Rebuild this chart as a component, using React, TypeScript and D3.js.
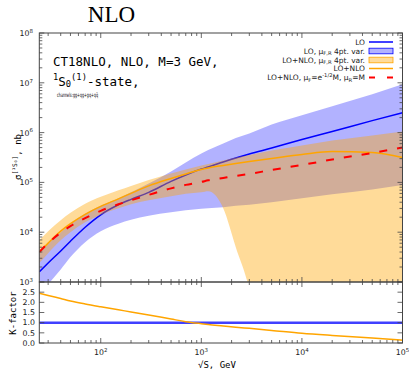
import React from "react";
import * as d3 from "d3";

// sqrt(S), GeV
const ENERGIES = [24.5, 30, 40, 50, 70, 100, 150, 200, 300, 500, 700, 1000, 1170, 1650, 2200, 3000, 5000, 1e4, 2e4, 5e4, 1e5];

// sigma, nb
const LO = [1.6e3, 2.4e3, 4.2e3, 6.6e3, 1.26e4, 2.24e4, 3.55e4, 4.57e4, 6.31e4, 1.05e5, 1.41e5, 1.86e5, 2.04e5, 2.57e5, 3.09e5, 3.72e5, 4.9e5, 7.24e5, 1.05e6, 1.74e6, 2.51e6];
const LO_LOW = [500, 890, 1.78e3, 3.16e3, 6.31e3, 1.05e4, 1.48e4, 1.78e4, 2.14e4, 2.51e4, 2.75e4, 2.95e4, 3.02e4, 3.16e4, 3.39e4, 3.55e4, 3.98e4, 4.79e4, 5.75e4, 7.24e4, 8.91e4];
const LO_HIGH = [4.17e3, 6.03e3, 1e4, 1.48e4, 2.34e4, 3.39e4, 4.79e4, 6.31e4, 9.55e4, 1.66e5, 2.51e5, 3.8e5, 4.47e5, 6.03e5, 7.76e5, 9.55e5, 1.45e6, 2.24e6, 3.39e6, 5.89e6, 9.33e6];
const NLO = [3.98e3, 6.03e3, 1.05e4, 1.48e4, 2.29e4, 3.31e4, 4.68e4, 6.03e4, 8.51e4, 1.2e5, 1.48e5, 1.82e5, 1.95e5, 2.19e5, 2.4e5, 2.63e5, 3.02e5, 3.63e5, 4.17e5, 3.98e5, 3.16e5];
const NLO_LOW = [2.4e3, 3.8e3, 6.92e3, 1e4, 1.58e4, 2.24e4, 3.02e4, 3.63e4, 4.37e4, 5.25e4, 5.89e4, 6.31e4, 6.61e4, 3.02e4, 5.01e3, 708, 1, 1, 1, 1, 1];
const NLO_HIGH = [6.92e3, 1.05e4, 1.74e4, 2.45e4, 3.72e4, 5.13e4, 6.92e4, 8.51e4, 1.12e5, 1.51e5, 1.82e5, 2.19e5, 2.34e5, 2.75e5, 3.16e5, 3.55e5, 4.37e5, 5.5e5, 6.92e5, 8.71e5, 1.05e6];
const NLO_ALT = [3.98e3, 6.03e3, 9.77e3, 1.32e4, 1.91e4, 2.69e4, 3.63e4, 4.37e4, 5.62e4, 7.59e4, 8.91e4, 1.02e5, 1.1e5, 1.23e5, 1.35e5, 1.48e5, 1.78e5, 2.24e5, 2.88e5, 3.89e5, 5.01e5];

// K-factor panel
const K_LO = [1, 1, 1, 1, 1, 1, 1, 1, 1, 1, 1, 1, 1, 1, 1, 1, 1, 1, 1, 1, 1];
const K_NLO = [2.45, 2.34, 2.19, 2.07, 1.92, 1.78, 1.63, 1.53, 1.38, 1.18, 1.05, 0.95, 0.91, 0.84, 0.78, 0.72, 0.62, 0.48, 0.37, 0.24, 0.14];

const Y_DECADES = [3, 4, 5, 6, 7, 8];
const X_DECADES = [2, 3, 4, 5];
const K_TICKS = [0, 0.5, 1, 1.5, 2, 2.5, 3];
const K_LABELS = ["0.0", "0.5", "1.0", "1.5", "2.0", "2.5"];

const LEFT = 39.3, RIGHT = 402.5, TOP = 33, MID = 282, BOTTOM = 343;
const SPINE = "#444";
const MONO = "'DejaVu Sans Mono', monospace";
const SANS = "'DejaVu Sans', sans-serif";

type Seg = { t: string; k?: "sup" | "sub" };

function Rich({ segs, size, subShift = 0.22, ...rest }: any) {
  let cur = 0;
  return (
    <text fontSize={size} {...rest}>
      {segs.map((s: Seg, i: number) => {
        const target = s.k === "sup" ? -size * 0.42 : s.k === "sub" ? size * subShift : 0;
        const dy = target - cur;
        cur = target;
        return (
          <tspan key={i} dy={dy} fontSize={s.k ? size * 0.7 : size}>{s.t}</tspan>
        );
      })}
    </text>
  );
}

export default function App() {
  const x = d3.scaleLog().domain([24.5, 1e5]).range([LEFT, RIGHT]);
  const y = d3.scaleLog().domain([1e3, 1e8]).range([MID, TOP]);
  const yk = d3.scaleLinear().domain([0, 3]).range([BOTTOM, MID]);

  const line = (vals: number[], ys: any) =>
    d3.line<number>()
      .x((_, i) => x(ENERGIES[i]))
      .y((v) => ys(v))
      .curve(d3.curveMonotoneX)(vals) || "";

  const band = (lo: number[], hi: number[]) =>
    d3.area<number>()
      .x((e) => x(e))
      .y0((_, i) => y(lo[i]))
      .y1((_, i) => y(hi[i]))
      .curve(d3.curveMonotoneX)(ENERGIES) || "";

  const xTicks = x.ticks();
  const yTicks = y.ticks();
  const isMajor = (v: number) => Math.abs(Math.log10(v) - Math.round(Math.log10(v))) < 1e-6;

  const legendRows = [42, 51, 60, 68.5, 77.5];
  const LX = 365, HX0 = 369, HX1 = 393;

  return (
    <svg width={409} height={370} style={{ position: "absolute", left: 0, top: 0, background: "#fff" }}>
      <defs>
        <clipPath id="mainClip">
          <rect x={LEFT} y={TOP} width={RIGHT - LEFT} height={MID - TOP} />
        </clipPath>
        <clipPath id="kClip">
          <rect x={LEFT} y={MID} width={RIGHT - LEFT} height={BOTTOM - MID} />
        </clipPath>
      </defs>

      {/* title */}
      <text x={111.5} y={22} textAnchor="middle" fontFamily="'Liberation Serif', serif" fontSize={23}>NLO</text>

      {/* main panel */}
      <g clipPath="url(#mainClip)">
        <path d={band(LO_LOW, LO_HIGH)} fill="blue" fillOpacity={0.3} />
        <path d={line(LO, y)} fill="none" stroke="blue" strokeWidth={1.5} />
        <path d={band(NLO_LOW, NLO_HIGH)} fill="orange" fillOpacity={0.4} />
        <path d={line(NLO, y)} fill="none" stroke="orange" strokeWidth={1.5} />
        <path d={line(NLO_ALT, y)} fill="none" stroke="red" strokeWidth={2} strokeDasharray="8,10" />
      </g>

      {/* K panel */}
      <g clipPath="url(#kClip)">
        <path d={line(K_LO, yk)} fill="none" stroke="blue" strokeWidth={2.5} strokeOpacity={0.75} />
        <path d={line(K_NLO, yk)} fill="none" stroke="orange" strokeWidth={1.5} />
      </g>

      {/* frames */}
      <rect x={LEFT} y={TOP} width={RIGHT - LEFT} height={MID - TOP} fill="none" stroke={SPINE} strokeWidth={1} />
      <rect x={LEFT} y={MID} width={RIGHT - LEFT} height={BOTTOM - MID} fill="none" stroke={SPINE} strokeWidth={1} />

      {/* ticks, all pointing inward */}
      <g stroke={SPINE} strokeWidth={0.8}>
        {xTicks.map((t, i) => {
          const len = isMajor(t) ? 5 : 3;
          const px = x(t);
          return (
            <g key={i}>
              <line x1={px} x2={px} y1={TOP} y2={TOP + len} />
              <line x1={px} x2={px} y1={MID} y2={MID - len} />
              <line x1={px} x2={px} y1={MID} y2={MID + len} />
              <line x1={px} x2={px} y1={BOTTOM} y2={BOTTOM - len} />
            </g>
          );
        })}
        {yTicks.map((t, i) => {
          const len = isMajor(t) ? 5 : 3;
          const py = y(t);
          return (
            <g key={"y" + i}>
              <line x1={LEFT} x2={LEFT + len} y1={py} y2={py} />
              <line x1={RIGHT} x2={RIGHT - len} y1={py} y2={py} />
            </g>
          );
        })}
        {K_TICKS.map((t, i) => (
          <g key={"k" + i}>
            <line x1={LEFT} x2={LEFT + 5} y1={yk(t)} y2={yk(t)} />
            <line x1={RIGHT} x2={RIGHT - 5} y1={yk(t)} y2={yk(t)} />
          </g>
        ))}
      </g>

      {/* tick labels */}
      <g fontFamily={SANS} fill="#222">
        {Y_DECADES.map((d) => (
          <Rich key={d} segs={[{ t: "10" }, { t: String(d), k: "sup" }]} size={7.8} x={33} y={y(Math.pow(10, d)) + 3} textAnchor="end" />
        ))}
        {X_DECADES.map((d) => (
          <Rich key={d} segs={[{ t: "10" }, { t: String(d), k: "sup" }]} size={7.8} x={x(Math.pow(10, d))} y={355} textAnchor="middle" />
        ))}
        {K_LABELS.map((l, i) => (
          <text key={l} x={35} y={yk(K_TICKS[i]) + 2.8} fontSize={7.8} textAnchor="end">{l}</text>
        ))}
      </g>

      {/* axis labels */}
      <Rich segs={[{ t: "σ" }, { t: "[¹S₀]", k: "sup" }, { t: ", nb" }]} size={9} fontFamily={MONO}
        textAnchor="middle" transform={`translate(21,157) rotate(-90)`} />
      <text transform="translate(16,313) rotate(-90)" textAnchor="middle" fontFamily={MONO} fontSize={9}>K-factor</text>
      <text x={217} y={368} textAnchor="middle" fontFamily={MONO} fontSize={9}>√S, GeV</text>

      {/* annotations */}
      <text x={53} y={65.5} fontFamily={MONO} fontSize={12.5}>CT18NLO, NLO, M=3 GeV,</text>
      <Rich segs={[{ t: "1", k: "sup" }, { t: "S" }, { t: "0", k: "sub" }, { t: "(1)", k: "sup" }, { t: "-state," }]}
        size={12.5} subShift={0.12} fontFamily={MONO} x={53} y={85.5} />
      <text x={57} y={96.5} fontFamily={SANS} fontSize={6} textLength={41} lengthAdjust="spacingAndGlyphs">channels:gg+qg+gq+qq̄</text>

      {/* legend */}
      <g fontFamily={SANS} fill="#222">
        <Rich segs={[{ t: "LO" }]} size={7.5} x={LX} y={legendRows[0] + 2.7} textAnchor="end" />
        <Rich segs={[{ t: "LO, μ" }, { t: "F,R", k: "sub" }, { t: " 4pt. var." }]} size={7.5} x={LX} y={legendRows[1] + 2.7} textAnchor="end" />
        <Rich segs={[{ t: "LO+NLO, μ" }, { t: "F,R", k: "sub" }, { t: " 4pt. var." }]} size={7.5} x={LX} y={legendRows[2] + 2.7} textAnchor="end" />
        <Rich segs={[{ t: "LO+NLO" }]} size={7.5} x={LX} y={legendRows[3] + 2.7} textAnchor="end" />
        <Rich segs={[{ t: "LO+NLO, μ" }, { t: "F", k: "sub" }, { t: "=e" }, { t: "-1/2", k: "sup" }, { t: "M, μ" }, { t: "R", k: "sub" }, { t: "=M" }]}
          size={7.5} x={LX} y={legendRows[4] + 2.7} textAnchor="end" />
      </g>
      <line x1={HX0} x2={HX1} y1={legendRows[0]} y2={legendRows[0]} stroke="blue" strokeWidth={1.5} />
      <rect x={HX0} y={legendRows[1] - 2.8} width={HX1 - HX0} height={5.6} fill="blue" fillOpacity={0.3} stroke="blue" strokeWidth={0.8} />
      <rect x={HX0} y={legendRows[2] - 2.8} width={HX1 - HX0} height={5.6} fill="orange" fillOpacity={0.4} stroke="orange" strokeWidth={0.8} />
      <line x1={HX0} x2={HX1} y1={legendRows[3]} y2={legendRows[3]} stroke="orange" strokeWidth={1.5} />
      <line x1={HX0} x2={HX1} y1={legendRows[4]} y2={legendRows[4]} stroke="red" strokeWidth={2} strokeDasharray="6,12" />
    </svg>
  );
}
